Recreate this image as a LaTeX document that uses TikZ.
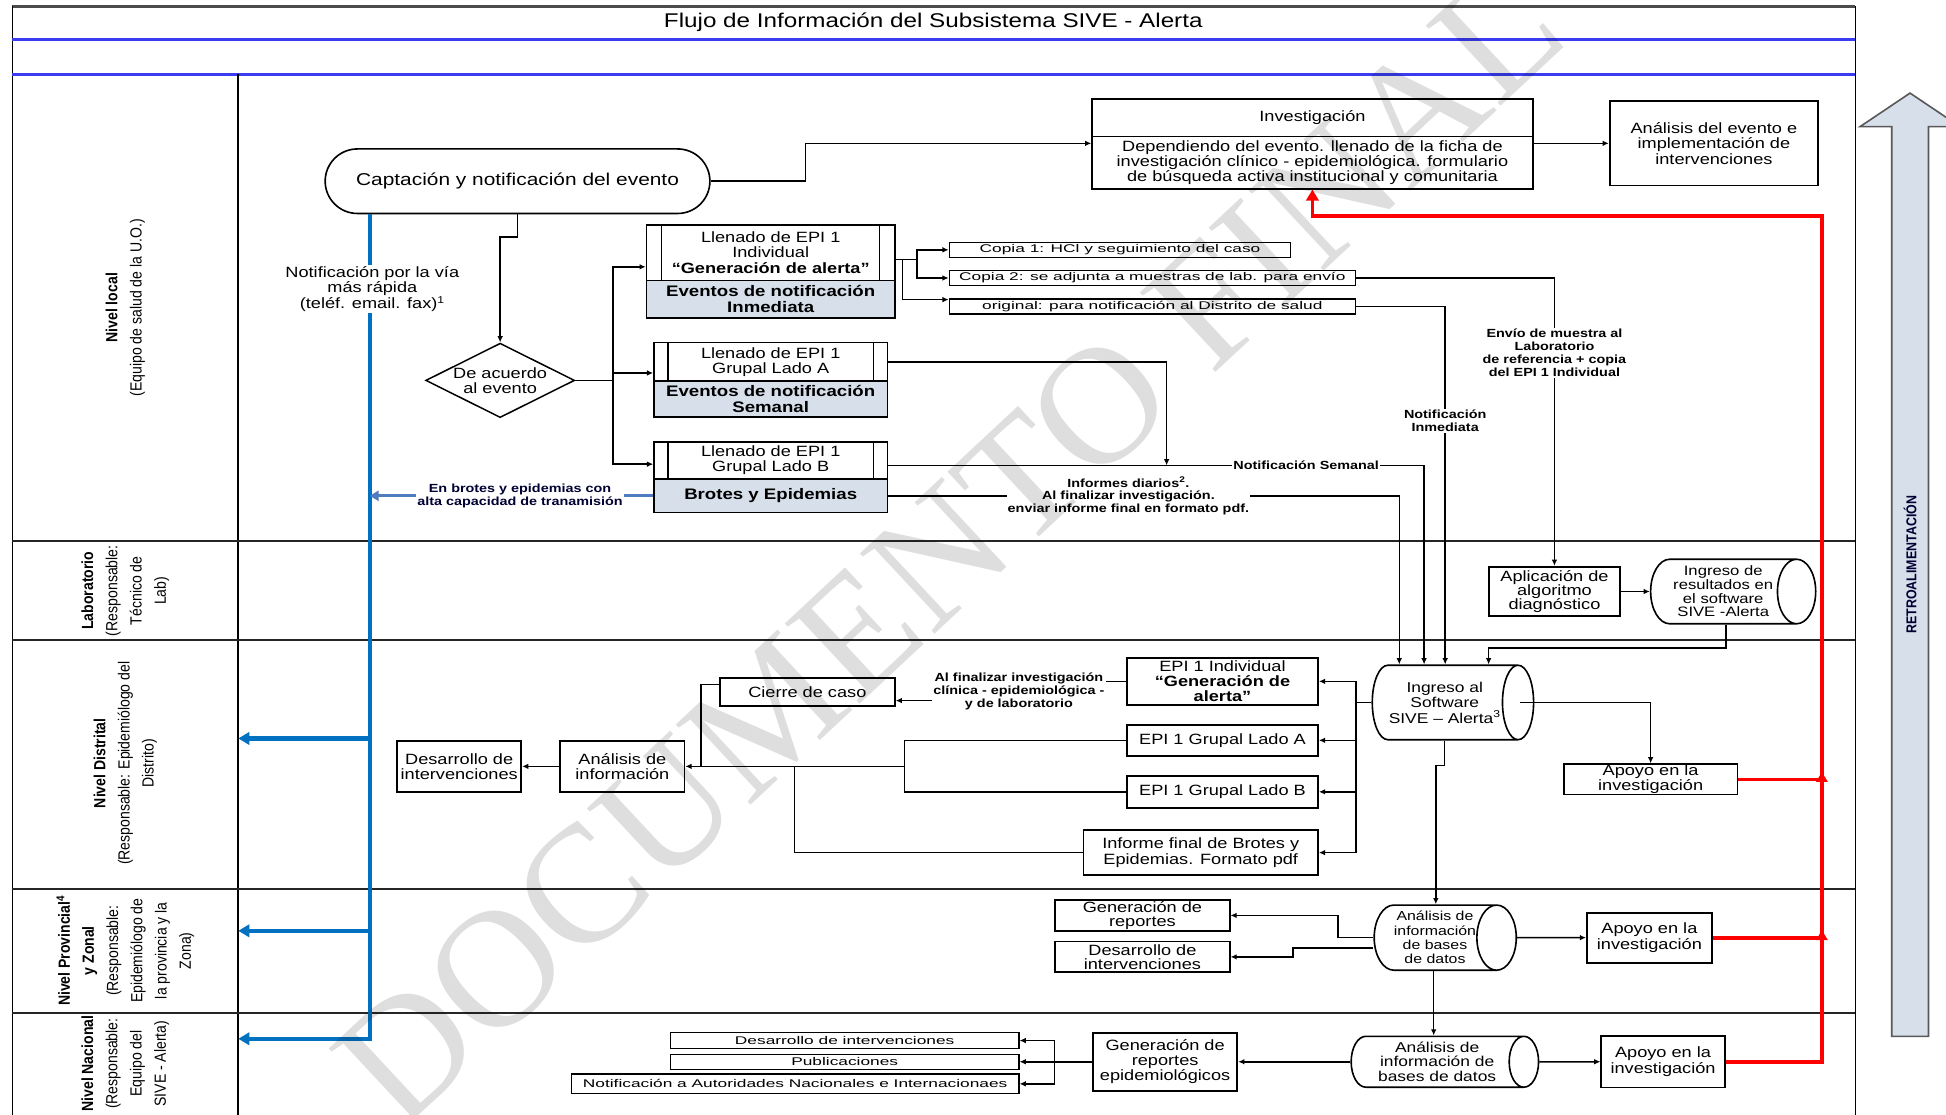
\documentclass[tikz,border=0pt]{standalone}
\usepackage{fontspec}
\setmainfont{Liberation Sans}[FakeStretch=1.22]
\newfontfamily\narrowf{Liberation Sans}[FakeStretch=0.87]
\newfontfamily\sqf{Liberation Sans}[FakeStretch=1.55]
\newfontfamily\wmf{Liberation Serif}
\usetikzlibrary{shapes.geometric,shapes.misc,arrows.meta,calc}
\definecolor{shade}{HTML}{D6DFEA}
\definecolor{bluel}{HTML}{0070C0}
\definecolor{steel}{HTML}{4F7BC0}
\definecolor{band}{HTML}{3B3BF0}
\newcommand{\myfs}[2]{\fontsize{#1}{#2}\selectfont}
\begin{document}
\begin{tikzpicture}[x=1pt,y=-1pt,
  line/.style={line width=1.2pt},
  arr/.style={line width=1.2pt,-{Latex[length=5pt,width=4.5pt]}},
  box/.style={draw,line width=1.4pt,fill=white,align=center,inner sep=0pt,font=\myfs{12}{12.3}},
  sbox/.style={box,fill=shade,font=\bfseries\myfs{12.3}{12.5}},
  sqbox/.style={box,line width=1.2pt,font=\sqf\myfs{9}{9}},
  cyl/.style={cylinder,draw,line width=1.3pt,fill=white,align=center,inner sep=0pt,aspect=0.75,anchor=shape center,font=\myfs{11}{11.5}},
  lbl/.style={fill=white,align=center,inner sep=1pt,font=\bfseries\myfs{9.5}{10.3}},
  side/.style={rotate=90,align=center,font=\narrowf\myfs{13}{19.5}},
  bluearr/.style={line width=3.5pt,draw=bluel,-{Triangle[length=9pt,width=10pt]}},
  redl/.style={line width=3pt,draw=red},
  redarr/.style={line width=3pt,draw=red,-{Triangle[length=9pt,width=10pt]}},
  ]
\useasboundingbox (0,0) rectangle (1568,898);
\fill[white] (0,0) rectangle (1568,898);

% ---------- frame ----------
\draw[line width=2.5pt,black!70] (10,5) -- (1495,5);
\draw[line width=1.3pt] (10,5) -- (10,898);
\draw[line width=1.3pt] (1495,5) -- (1495,898);
\node[font=\myfs{16}{16}] (title) at (752,18) {Flujo de Información del Subsistema SIVE - Alerta};
\draw[band,line width=2.4pt] (10,32) -- (1495,32);
\draw[band,line width=2.4pt] (10,60) -- (1495,60);
\draw[line width=1.3pt] (192,60) -- (192,898);
\foreach \yy in {436,516,716,816} \draw[line width=1.6pt,black!85] (10,\yy) -- (1495,\yy);

% ---------- side labels ----------
\node[side] (sLocal) at (101,248) {\textbf{Nivel local}\\(Equipo de salud de la U.O.)};
\node[side] (sLab) at (101,476) {\textbf{Laboratorio}\\(Responsable:\\Técnico de\\Lab)};
\node[side] (sDist) at (101,615) {\textbf{Nivel Distrital}\\(Responsable: Epidemiólogo del\\Distrito)};
\node[side] (sProv) at (101,766) {\textbf{Nivel Provincial\textsuperscript{4}}\\\textbf{y Zonal}\\(Responsable:\\Epidemiólogo de\\la provincia y la\\Zona)};
\node[side] (sNac) at (101,857) {\textbf{Nivel Nacional}\\(Responsable:\\Equipo del\\SIVE - Alerta)};

% ---------- retroalimentacion arrow ----------
\draw[line width=1.3pt,draw=black!65,fill=shade] (1524.3,835) -- (1524.3,102) -- (1498.8,102) -- (1539,75) -- (1579.2,102) -- (1553.9,102) -- (1553.9,835) -- cycle;
\node[rotate=90,font=\narrowf\bfseries\myfs{11.5}{12},text=black!80!blue] (retro) at (1539,455) {RETROALIMENTACIÓN};

% ---------- local level ----------
\node[rounded rectangle,draw,line width=1.3pt,fill=white,minimum width=310pt,minimum height=52pt,inner sep=0pt,font=\myfs{13.8}{14}] (capt) at (417,146) {Captación y notificación del evento};
\node[box,minimum width=355pt,minimum height=30pt] (invT) at (1057.5,95) {Investigación};
\node[box,minimum width=355pt,minimum height=42pt] (invB) at (1057.5,131) {Dependiendo del evento. llenado de la ficha de\\investigación clínico - epidemiológica. formulario\\de búsqueda activa institucional y comunitaria};
\node[box,minimum width=168pt,minimum height=68pt] (anaEv) at (1381,115.5) {Análisis del evento e\\implementación de\\intervenciones};

\node[box,minimum width=200pt,minimum height=45pt] (epiI) at (621,203.5) {Llenado de EPI 1\\Individual\\\textbf{“Generación de alerta”}};
\node[sbox,minimum width=200pt,minimum height=30pt] (epiIs) at (621,241) {Eventos de notificación\\Inmediata};
\node[box,minimum width=188pt,minimum height=31pt] (epiA) at (621,291.5) {Llenado de EPI 1\\Grupal Lado A};
\node[sbox,minimum width=188pt,minimum height=29pt] (epiAs) at (621,321.5) {Eventos de notificación\\Semanal};
\node[box,minimum width=188pt,minimum height=30pt] (epiB) at (621,371) {Llenado de EPI 1\\Grupal Lado B};
\node[sbox,minimum width=188pt,minimum height=27pt] (epiBs) at (621,399.5) {Brotes y Epidemias};
\foreach \n/\d in {epiI/13,epiA/12,epiB/12}{
  \draw[line width=1pt] ([xshift=\d pt]\n.north west) -- ([xshift=\d pt]\n.south west);
  \draw[line width=1pt] ([xshift=-\d pt]\n.north east) -- ([xshift=-\d pt]\n.south east);
}
\node[diamond,draw,line width=1.2pt,fill=white,aspect=2,inner sep=0pt,minimum width=120pt,minimum height=60pt,align=center,font=\myfs{12}{12}] (dec) at (403,306.5) {De acuerdo\\al evento};

\node[sqbox,minimum width=275pt,minimum height=12pt] (cop1) at (902.5,201.3) {Copia 1: HCl y seguimiento del caso};
\node[sqbox,minimum width=327pt,minimum height=12pt] (cop2) at (928.5,224) {Copia 2: se adjunta a muestras de lab. para envío};
\node[sqbox,minimum width=327pt,minimum height=12pt] (orig) at (928.5,247) {original: para notificación al Distrito de salud};

% ---------- laboratory ----------
\node[box,minimum width=106pt,minimum height=40pt,font=\myfs{12}{11.5}] (aplic) at (1252.5,476.6) {Aplicación de\\algoritmo\\diagnóstico};
\node[cyl,minimum width=52pt,minimum height=133pt,font=\myfs{11}{11}] (ingRes) at (1396.5,476.6) {Ingreso de\\resultados en\\el software\\SIVE -Alerta};

% ---------- district ----------
\node[cyl,minimum width=60pt,minimum height=130pt,font=\myfs{11.5}{12.5}] (ingSW) at (1170.7,566) {Ingreso al\\Software\\SIVE – Alerta\textsuperscript{3}};
\node[box,minimum width=154pt,minimum height=38pt] (epiI2) at (985,549) {EPI 1 Individual\\\textbf{“Generación de}\\\textbf{alerta”}};
\node[box,minimum width=154pt,minimum height=25pt] (epiA2) at (985,596.5) {EPI 1 Grupal Lado A};
\node[box,minimum width=154pt,minimum height=26pt] (epiB2) at (985,638) {EPI 1 Grupal Lado B};
\node[box,minimum width=189pt,minimum height=36pt] (informe) at (967.5,687) {Informe final de Brotes y\\Epidemias. Formato pdf};
\node[box,minimum width=141pt,minimum height=23pt] (cierre) at (650.5,557.5) {Cierre de caso};
\node[box,minimum width=100pt,minimum height=41pt] (analisis) at (501.5,617.5) {Análisis de\\información};
\node[box,minimum width=100pt,minimum height=41pt] (desarrollo) at (370,617.5) {Desarrollo de\\intervenciones};
\node[box,minimum width=140pt,minimum height=24.5pt,font=\myfs{12}{11}] (apoyoD) at (1330,628) {Apoyo en la\\investigación};
\node[lbl] (lblC) at (821,557) {Al finalizar investigación\\clínica - epidemiológica -\\y de laboratorio};

% ---------- provincial ----------
\node[cyl,minimum width=52.5pt,minimum height=109pt,font=\myfs{10.5}{11.5}] (anaP) at (1164.5,755.5) {Análisis de\\información\\de bases\\de datos};
\node[box,minimum width=140.6pt,minimum height=24.8pt,font=\myfs{12}{11}] (genRep) at (920.5,737.6) {Generación de\\reportes};
\node[box,minimum width=140.6pt,minimum height=24.7pt,font=\myfs{12}{11}] (desP) at (920.5,771) {Desarrollo de\\intervenciones};
\node[box,minimum width=100.7pt,minimum height=40.3pt] (apoyoP) at (1329,755.5) {Apoyo en la\\investigación};

% ---------- national ----------
\node[cyl,minimum width=41pt,minimum height=151pt,font=\myfs{11.5}{11.5}] (anaN) at (1164.2,855.5) {Análisis de\\información de\\bases de datos};
\node[box,minimum width=116.4pt,minimum height=46.8pt] (genN) at (938.8,855.5) {Generación de\\reportes\\epidemiológicos};
\node[box,minimum width=99.5pt,minimum height=41.4pt] (apoyoN) at (1340,855.5) {Apoyo en la\\investigación};
\node[sqbox,minimum width=280.6pt,minimum height=12.9pt] (desN) at (680.6,838.4) {Desarrollo de intervenciones};
\node[sqbox,minimum width=280.6pt,minimum height=12.1pt] (pubN) at (680.6,855.5) {Publicaciones};
\node[sqbox,minimum width=360.4pt,minimum height=15.6pt,font=\sqf\myfs{9}{9}] (notN) at (640.7,873.3) {Notificación a Autoridades Nacionales e Internacionaes};

% ---------- coordinates ----------
\coordinate (bx) at (298,837);
\coordinate (lvD) at (192,595);
\coordinate (lvP) at (192,750);
\coordinate (lvN) at (192,837);
\coordinate (jd) at (494,306.5);
\coordinate (jc) at (739,209);
\coordinate (jo) at (727,209);
\coordinate (jA) at (940,375);
\coordinate (swtop) at (ingSW.west |- ingSW.north);
\coordinate (swbot) at (ingSW.west |- ingSW.south);
\coordinate (jd2) at (1092.7,566);
\coordinate (ja) at (565,617.5);
\coordinate (jab) at (729,617.5);
\coordinate (jinf) at (640,617.5);
\coordinate (pv1) at (1078,755.5);
\coordinate (pv2) at (1042,764);
\coordinate (pv2s) at ($(anaP.west)+(0,8.5)$);
\coordinate (pTop) at ($(anaP.west |- anaP.north)+(50.3,0)$);
\coordinate (pBot) at ($(anaP.west |- anaP.south)+(48.6,0)$);
\coordinate (jn) at (849.7,855.5);
\coordinate (rb) at (1468,174);
\coordinate (rD) at (apoyoD.east -| rb);
\coordinate (rP) at (apoyoP.east -| rb);
\coordinate (resBot) at ($(ingRes.west |- ingRes.south)+(61.4,0)$);

% ---------- blue ----------
\draw[bluearr] (capt.south -| bx) -- (bx) -- (lvN);
\draw[bluearr] (bx |- lvD) -- (lvD);
\draw[bluearr] (bx |- lvP) -- (lvP);
\node[fill=white,align=center,inner sep=1pt,font=\myfs{12}{12}] (lNotif) at (300,233) {Notificación por la vía\\más rápida\\(teléf. email. fax)\textsuperscript{1}};
\draw[line width=2.5pt,draw=steel,-{Triangle[length=7pt,width=8pt]}] (epiBs.west) -- (epiBs.west -| bx)
  node[lbl,pos=0.47,text=black!80!blue] (lBrotes) {En brotes y epidemias con\\alta capacidad de tranamisión};

% ---------- local connectors ----------
\draw[arr] (capt.east) -- (649,146) -- (649,115.5) -- (invB.west |- anaEv.west);
\draw[arr] (invB.east |- anaEv.west) -- (anaEv.west);
\draw[arr] (capt.south) -- (capt.south |- 0,191) -| (dec.north);
\draw[line] (dec.east) -- (jd);
\draw[arr] (jd) |- ([yshift=-11.5pt]epiI.west);
\draw[arr] (jd) |- ([yshift=-9pt]epiA.west);
\draw[arr] (jd) |- ([yshift=-3pt]epiB.west);
\draw[line] ([yshift=-5.5pt]epiI.east) -- (jc);
\draw[arr] (jc) |- (cop1.west);
\draw[arr] (jc) |- (cop2.west);
\draw[arr] (jo) |- ([yshift=-1pt]orig.north west);
\draw[arr] (epiA.east) -| (jA);
\draw[arr] ([yshift=-4pt]epiB.east) -| ($(swtop)+(42.4,0)$)
  node[lbl,pos=0.39] (lSem) {Notificación Semanal};
\draw[arr] (epiBs.east) -| ($(swtop)+(22.4,0)$)
  node[lbl,pos=0.235] (lInf) {Informes diarios\textsuperscript{2}.\\Al finalizar investigación.\\enviar informe final en formato pdf.};
\draw[arr] (orig.east) -| ($(swtop)+(59.4,0)$)
  node[lbl,pos=0.66] (lInm) {Notificación\\Inmediata};
\draw[arr] (cop2.east) -| (aplic.north)
  node[lbl,pos=0.63] (lEnv) {Envío de muestra al\\Laboratorio\\de referencia + copia\\del EPI 1 Individual};

% ---------- lab connectors ----------
\draw[arr] (aplic.east) -- (ingRes.west);
\draw[arr] (resBot) -- (resBot |- 0,522) -| ($(swtop)+(94.4,0)$);

% ---------- district connectors ----------
\draw[line] (ingSW.west) -- (jd2);
\draw[arr] (jd2) |- (epiI2.east);
\draw[arr] (jd2) |- (epiA2.east);
\draw[arr] (jd2) |- (epiB2.east);
\draw[arr] (jd2) |- (informe.east);
\draw[line] (epiI2.west) -- (epiI2.west -| lblC.east);
\coordinate (ce) at ($(cierre.east)+(0,7)$);
\draw[arr] (ce -| lblC.west) -- (ce);
\draw[line] ([yshift=6pt]cierre.west) -| (ja);
\draw[line] (epiA2.west) -| (jab);
\draw[line] (epiB2.west) -| (jab);
\draw[line] (informe.west) -| (jinf);
\draw[arr] (jab) -- (analisis.east);
\draw[arr] (analisis.west) -- (desarrollo.east);
\draw[arr] ($(ingSW.east)+(-12,0)$) -| (apoyoD.north);
\draw[arr] ($(swbot)+(58.7,0)$) -- ++(0,20) -| (pTop);

% ---------- provincial connectors ----------
\draw[arr] (anaP.west) -- (pv1) |- (genRep.east);
\draw[arr] (pv2s) -- (pv2) |- (desP.east);
\draw[arr] (anaP.east) -- (apoyoP.west);
\draw[arr] (pBot) -- (pBot |- anaN.north);

% ---------- national connectors ----------
\draw[arr] (anaN.west) -- (genN.east);
\draw[arr] (anaN.east) -- (apoyoN.west);
\draw[line] (genN.west) -- (jn);
\draw[arr] (jn) |- (desN.east);
\draw[arr] (jn) -- (pubN.east);
\draw[arr] (jn) |- (notN.east);

% ---------- red feedback ----------
\draw[redarr] (apoyoN.east) -| (rb) -| (invB.south);
\draw[redl] (apoyoD.east) -- (rD);
\draw[redl] (apoyoP.east) -- (rP);
\draw[red,line width=3pt,-{Triangle[length=8pt,width=9pt]}] (rD) -- ++(0,-6);
\draw[red,line width=3pt,-{Triangle[length=8pt,width=9pt]}] (rP) -- ++(0,-6);

% ---------- watermark ----------
\node[rotate=43,font=\wmf\myfs{135}{135},text=black,opacity=0.13] (wm) at (765,440) {DOCUMENTO FINAL};
\end{tikzpicture}
\end{document}
